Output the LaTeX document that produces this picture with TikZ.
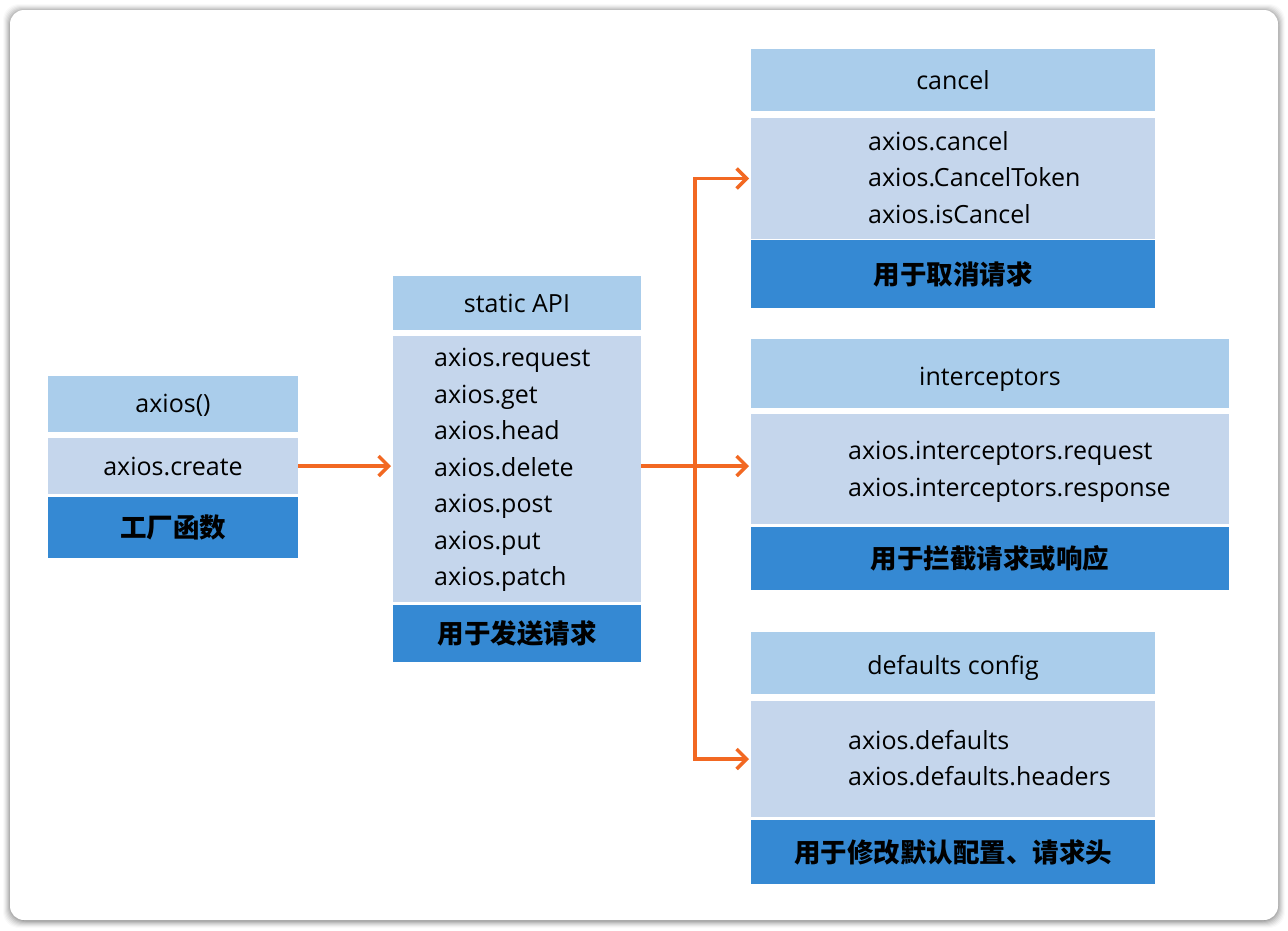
\documentclass[tikz,border=0pt]{standalone}
\usepackage{fontspec}
\setmainfont{Open Sans}
\newfontfamily\cjk{Noto Sans CJK SC}
\usetikzlibrary{arrows.meta}
\definecolor{hdrc}{RGB}{170,205,235}
\definecolor{bdyc}{RGB}{197,214,236}
\definecolor{ftrc}{RGB}{53,137,211}
\definecolor{arrc}{RGB}{242,104,34}
\tikzset{
  box/.style={inner sep=0pt, outer sep=0pt, font=\fontsize{25}{36.5}\selectfont},
  hdr/.style={box, fill=hdrc},
  bdy/.style={box, fill=bdyc},
  ftr/.style={box, fill=ftrc, font=\cjk\bfseries\fontsize{26.5}{30}\selectfont},
  txt/.style={inner sep=0pt, align=left, anchor=north west, font=\fontsize{25}{36.5}\selectfont},
  conn/.style={draw=arrc, line width=3.4pt, shorten >=2pt, -{Straight Barb[length=10pt,width=20pt,line width=3.4pt]}},
  line/.style={draw=arrc, line width=3.4pt}
}
\begin{document}
\begin{tikzpicture}[x=1pt,y=-1pt]
\useasboundingbox (0,0) rectangle (1288,930);
\fill[white] (0,0) rectangle (1288,930);
% card shadow
\foreach \i/\o in {8/0.02,7/0.03,6/0.04,5/0.05,4/0.06,3/0.07,2/0.08,1/0.1}{
  \fill[black, opacity=\o, rounded corners=16pt] (10-\i+1,10-\i+2) rectangle (1278+\i-1,920+\i);
}
\fill[white, rounded corners=14pt] (10,10) rectangle (1278,920);

% axios() group
\node[hdr, minimum width=250pt, minimum height=56pt, text height=20pt, text depth=4pt] (ah) at (173,404) {axios()};
\node[bdy, minimum width=250pt, minimum height=56pt] (ab) at (173,466) {axios.create};
\node[ftr, minimum width=250pt, minimum height=61pt] (af) at (173,527.5) {工厂函数};

% static API group
\node[hdr, minimum width=248pt, minimum height=54pt] (sh) at (517,303) {static API};
\node[bdy, minimum width=248pt, minimum height=266pt] (sb) at (517,469) {};
\node[txt] (st) at (434,348) {axios.request\\axios.get\\axios.head\\axios.delete\\axios.post\\axios.put\\axios.patch};
\node[ftr, minimum width=248pt, minimum height=57pt] (sf) at (517,633.5) {用于发送请求};

% cancel group
\node[hdr, minimum width=404pt, minimum height=62pt, text height=21pt, text depth=3pt] (ch) at (953,80) {cancel};
\node[bdy, minimum width=404pt, minimum height=121pt] (cb) at (953,178.5) {};
\node[txt] (ct) at (868,131) {axios.cancel\\axios.CancelToken\\axios.isCancel};
\node[ftr, minimum width=404pt, minimum height=68pt] (cf) at (953,274) {用于取消请求};

% interceptors group
\node[hdr, minimum width=478pt, minimum height=69pt, text height=24pt, text depth=0pt] (ih) at (990,373.5) {interceptors};
\node[bdy, minimum width=478pt, minimum height=110pt] (ib) at (990,469) {};
\node[txt] (it) at (848,441) {axios.interceptors.request\\axios.interceptors.response};
\node[ftr, minimum width=478pt, minimum height=63pt] (if) at (990,558.5) {用于拦截请求或响应};

% defaults group
\node[hdr, minimum width=404pt, minimum height=62pt, text height=23pt, text depth=1pt] (dh) at (953,663) {defaults config};
\node[bdy, minimum width=404pt, minimum height=116pt] (db) at (953,759) {};
\node[txt] (dt) at (848,730) {axios.defaults\\axios.defaults.headers};
\node[ftr, minimum width=404pt, minimum height=64pt] (df) at (953,852) {用于修改默认配置、请求头};

% connectors
\coordinate (br) at (695,466);
\draw[conn] (ab.east) -- (ab.east -| sb.west);
\draw[line] (sb.east |- br) -- (br);
\draw[conn] (br) |- (cb.west);
\draw[conn] (br) -- (br -| ib.west);
\draw[conn] (br) |- (db.west);
\end{tikzpicture}
\end{document}
